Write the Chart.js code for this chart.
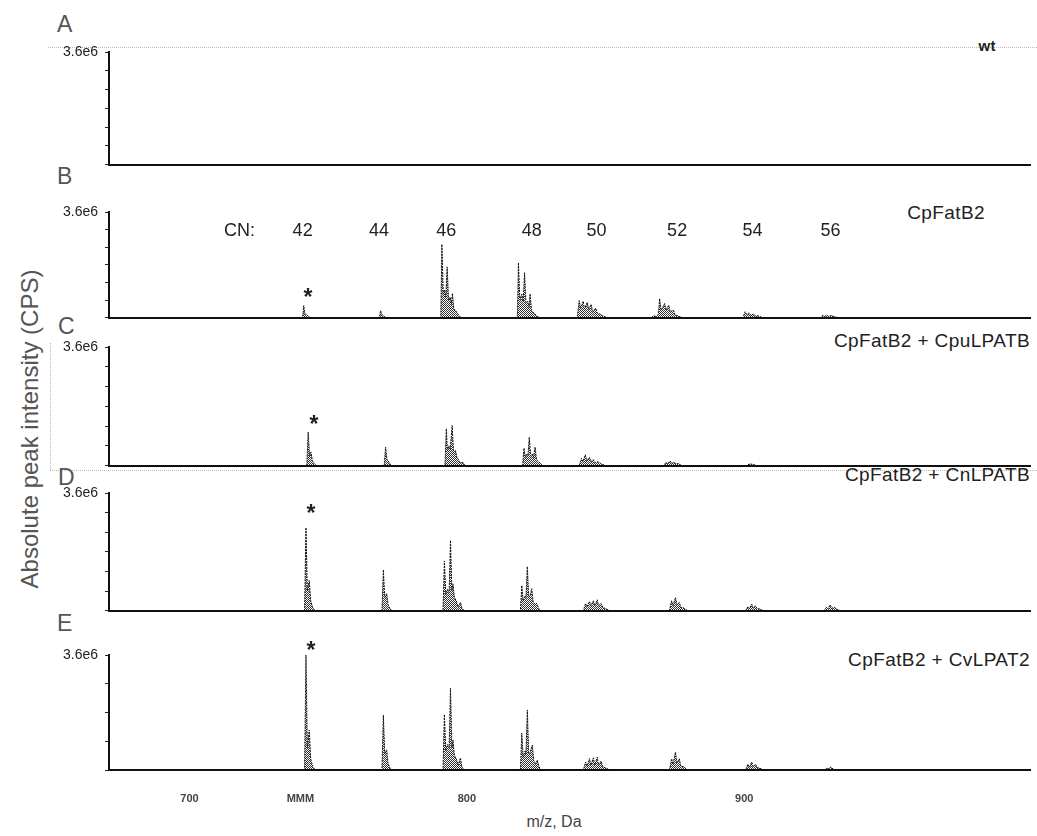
<!DOCTYPE html>
<html lang="en">
<head>
  <meta charset="UTF-8" />
  <title>TAG spectra</title>
  <script src="https://cdn.jsdelivr.net/npm/chart.js"></script>
  <style>
    body { margin: 0; background: #fff; }
    #wrap { position: relative; width: 1037px; height: 836px; overflow: hidden; font-family: "Liberation Sans", Arial, sans-serif; }
    #wrap canvas { position: absolute; left: 0; }
    .txt { position: absolute; white-space: nowrap; color: #222; line-height: 1; }
    .letter { font-size: 23px; color: #555; }
    .title { font-size: 19px; letter-spacing: 0.4px; transform: translate(-100%, -50%); }
    .dot { position: absolute; border: 0 dotted #bbb; }
  </style>
</head>
<body>
  <div id="wrap">
    <div class="dot" style="left:48px; top:47px; width:989px; border-top-width:1px;"></div>
    <div class="dot" style="left:50px; top:343px; height:127px; border-left-width:1px;"></div>
    <div class="dot" style="left:50px; top:470px; width:987px; border-top-width:1px;"></div>

    <div class="txt letter" style="left:57px; top:13px;">A</div>
    <div class="txt letter" style="left:57px; top:165px;">B</div>
    <div class="txt letter" style="left:58px; top:315px;">C</div>
    <div class="txt letter" style="left:58px; top:466px;">D</div>
    <div class="txt letter" style="left:57px; top:612px;">E</div>

    <div class="txt title" style="left:996px; top:45px; font-size:15px; font-weight:bold;">wt</div>
    <div class="txt title" style="left:985px; top:212px;">CpFatB2</div>
    <div class="txt title" style="left:1030px; top:340px;">CpFatB2 + CpuLPATB</div>
    <div class="txt title" style="left:1030px; top:474px;">CpFatB2 + CnLPATB</div>
    <div class="txt title" style="left:1030px; top:659px;">CpFatB2 + CvLPAT2</div>

    <div class="txt" style="left:-170px; top:417px; width:400px; text-align:center; font-size:24px; color:#555; transform:rotate(-90deg);">Absolute peak intensity (CPS)</div>
    <div class="txt" style="left:454px; top:814px; width:200px; text-align:center; font-size:16px; color:#444;">m/z, Da</div>
  </div>

  <script>
// m/z in Da, intensity in units of 1e6 cps
const xMin = 671, xMax = 1003;
const yMax = 3.6;
const xTickValues = [700, 740, 800, 900];
const xTickLabels = ['700', 'MMM', '800', '900'];

const cnLabels = ['42', '44', '46', '48', '50', '52', '54', '56'];
const cnMz = [740.8, 768.3, 792.6, 823.4, 846.7, 875.8, 903.0, 931.1];
const cnLevel = 2.95;
// asterisk over the CN42 peak, panels B..E
const starMz = [742.7, 744.9, 743.8, 743.8];
const starVal = [0.86, 1.40, 3.14, 3.91];

const specA = [[671, 0], [1003, 0]];

const specB = [
  [671, 0],
  [740.8, 0], [741.2, 0.41], [741.6, 0.14], [742.2, 0.10], [743.0, 0.03], [743.6, 0],
  [768.5, 0], [768.9, 0.24], [769.4, 0.10], [770.2, 0.04], [771.0, 0],
  [790.6, 0], [791.0, 2.50], [791.5, 0.80], [792.0, 0.95], [792.4, 0.70], [792.9, 1.73], [793.4, 0.60], [794.0, 0.70],
  [794.4, 0.45], [794.8, 0.83], [795.3, 0.30], [795.9, 0.25], [796.6, 0.14], [797.3, 0.05], [798.0, 0],
  [818.2, 0], [818.6, 1.87], [819.1, 0.60], [819.8, 0.80], [820.3, 0.55], [820.8, 1.53], [821.3, 0.50], [822.0, 0.55],
  [822.4, 0.35], [822.8, 0.81], [823.3, 0.25], [824.0, 0.18], [824.8, 0.10], [825.6, 0.03], [826.3, 0],
  [839.8, 0], [840.5, 0.58], [841.0, 0.30], [841.9, 0.56], [842.4, 0.30], [843.4, 0.52], [843.9, 0.28], [844.8, 0.45],
  [845.3, 0.22], [846.5, 0.32], [847.0, 0.15], [848.0, 0.12], [849.0, 0.06], [850.5, 0],
  [866.5, 0], [867.3, 0.06], [868.2, 0.04], [869.0, 0.10], [869.5, 0.65], [870.0, 0.25], [871.3, 0.48], [871.8, 0.25],
  [872.8, 0.42], [873.3, 0.20], [874.5, 0.25], [875.0, 0.10], [876.0, 0.06], [877.5, 0],
  [899.5, 0], [900.3, 0.20], [900.9, 0.10], [901.7, 0.16], [902.3, 0.08], [903.3, 0.12], [904.0, 0.06], [905.0, 0.06], [906.5, 0],
  [927.5, 0], [928.3, 0.08], [928.9, 0.04], [929.8, 0.08], [930.4, 0.04], [931.3, 0.07], [932.5, 0.03], [933.5, 0],
  [1003, 0]
];

const specC = [
  [671, 0],
  [742.3, 0], [742.8, 1.02], [743.3, 0.30], [743.8, 0.41], [744.3, 0.15], [745.0, 0.05], [745.8, 0],
  [770.2, 0], [770.7, 0.56], [771.2, 0.18], [771.6, 0.15], [772.3, 0.05], [773.0, 0],
  [792.1, 0], [792.6, 1.12], [793.0, 0.45], [793.5, 0.60], [794.0, 0.50], [794.7, 1.22], [795.2, 0.40], [795.9, 0.46],
  [796.4, 0.25], [797.0, 0.18], [797.6, 0.08], [798.6, 0.10], [799.3, 0],
  [820.1, 0], [820.6, 0.53], [821.1, 0.25], [821.6, 0.35], [822.0, 0.30], [822.5, 0.86], [823.0, 0.30], [823.6, 0.35],
  [824.0, 0.25], [824.6, 0.56], [825.1, 0.18], [825.8, 0.12], [826.4, 0.08], [827.2, 0],
  [840.5, 0], [841.3, 0.22], [841.8, 0.12], [842.7, 0.33], [843.2, 0.15], [844.2, 0.25], [844.7, 0.12], [845.6, 0.18],
  [846.1, 0.09], [847.2, 0.12], [848.5, 0.05], [850.0, 0],
  [871.0, 0], [871.8, 0.10], [872.3, 0.05], [873.3, 0.14], [873.8, 0.06], [874.8, 0.10], [875.3, 0.05], [876.2, 0.06], [877.5, 0],
  [901.0, 0], [901.8, 0.05], [903.0, 0.04], [904.5, 0],
  [1003, 0]
];

const specD = [
  [671, 0],
  [741.5, 0], [742.0, 2.54], [742.5, 0.60], [743.2, 0.92], [743.7, 0.30], [744.4, 0.10], [745.2, 0],
  [769.4, 0], [769.9, 1.25], [770.4, 0.40], [771.1, 0.52], [771.6, 0.18], [772.3, 0.05], [773.0, 0],
  [791.4, 0], [791.9, 1.52], [792.4, 0.50], [793.0, 0.65], [793.6, 0.55], [794.1, 2.15], [794.6, 0.60], [795.0, 0.82],
  [795.5, 0.40], [796.2, 0.30], [796.8, 0.12], [797.7, 0.25], [798.2, 0.08], [799.0, 0],
  [819.3, 0], [819.8, 0.77], [820.3, 0.30], [821.0, 0.45], [821.3, 0.40], [821.8, 1.35], [822.3, 0.40], [822.8, 0.45],
  [823.4, 0.67], [823.9, 0.25], [824.5, 0.20], [825.2, 0.22], [825.8, 0.08], [826.6, 0],
  [842.0, 0], [842.8, 0.22], [843.3, 0.12], [844.2, 0.28], [844.7, 0.15], [845.6, 0.30], [846.1, 0.15], [847.0, 0.33],
  [847.5, 0.15], [848.4, 0.22], [849.0, 0.10], [850.2, 0.05], [851.5, 0],
  [873.0, 0], [873.8, 0.30], [874.3, 0.15], [875.2, 0.40], [875.7, 0.18], [876.6, 0.25], [877.1, 0.10], [878.2, 0.08], [879.5, 0],
  [900.5, 0], [901.3, 0.12], [901.8, 0.06], [902.7, 0.20], [903.2, 0.08], [904.1, 0.14], [904.6, 0.06], [905.6, 0.05], [906.8, 0],
  [928.8, 0], [929.6, 0.10], [930.1, 0.05], [931.0, 0.18], [931.5, 0.07], [932.4, 0.10], [933.5, 0.04], [934.5, 0],
  [1003, 0]
];

const specE = [
  [671, 0],
  [741.5, 0], [742.0, 3.60], [742.5, 0.70], [743.2, 1.25], [743.7, 0.35], [744.4, 0.12], [745.2, 0],
  [769.4, 0], [769.9, 1.72], [770.4, 0.50], [771.1, 0.63], [771.6, 0.20], [772.3, 0.06], [773.0, 0],
  [791.4, 0], [791.9, 1.74], [792.4, 0.60], [793.0, 0.80], [793.6, 0.70], [794.1, 2.56], [794.6, 0.70], [795.0, 0.94],
  [795.5, 0.45], [796.2, 0.35], [796.8, 0.15], [797.7, 0.38], [798.2, 0.10], [799.0, 0],
  [819.3, 0], [819.8, 1.15], [820.3, 0.40], [821.0, 0.60], [821.3, 0.50], [821.8, 1.88], [822.3, 0.50], [822.8, 0.55],
  [823.6, 0.78], [824.1, 0.30], [824.8, 0.20], [825.4, 0.31], [826.0, 0.10], [826.8, 0],
  [842.0, 0], [842.8, 0.25], [843.3, 0.12], [844.2, 0.36], [844.7, 0.15], [845.6, 0.38], [846.1, 0.16], [847.0, 0.40],
  [847.5, 0.15], [848.4, 0.28], [849.0, 0.10], [850.2, 0.06], [851.5, 0],
  [873.0, 0], [873.8, 0.35], [874.3, 0.18], [875.2, 0.56], [875.7, 0.22], [876.6, 0.35], [877.1, 0.12], [878.2, 0.10], [879.5, 0],
  [900.5, 0], [901.3, 0.18], [901.8, 0.08], [902.7, 0.25], [903.2, 0.10], [904.1, 0.18], [904.6, 0.07], [905.6, 0.06], [906.8, 0],
  [929.0, 0], [929.8, 0.06], [930.5, 0.03], [931.2, 0.10], [932.0, 0.03], [933.0, 0],
  [1003, 0]
];

const specs = [specA, specB, specC, specD, specE];

// page geometry of each plot area
const plotTop = [52, 212, 347, 493, 655];
const plotBottom = [164, 317, 465, 610, 770];
const plotLeft = 109, plotRight = 1030;
const padTop = 22;
const FONT = '"Liberation Sans", Arial, sans-serif';

function hatch() {
  const c = document.createElement('canvas');
  c.width = 2; c.height = 2;
  const g = c.getContext('2d');
  g.fillStyle = 'rgba(0,0,0,0.8)';
  g.fillRect(0, 0, 1, 1);
  g.fillRect(1, 1, 1, 1);
  return g.createPattern(c, 'repeat');
}

// text marks placed in data coordinates
const marksPlugin = {
  id: 'marks',
  afterDraw(chart, args, opts) {
    const { ctx, scales: { x, y } } = chart;
    (opts.items || []).forEach(m => {
      ctx.save();
      ctx.font = m.font;
      ctx.fillStyle = '#222';
      ctx.textAlign = 'center';
      ctx.textBaseline = m.base || 'middle';
      ctx.fillText(m.text, x.getPixelForValue(m.x), y.getPixelForValue(m.y) + (m.dy || 0));
      ctx.restore();
    });
  }
};

const wrap = document.getElementById('wrap');
const pattern = hatch();

specs.forEach((spec, i) => {
  const last = i === specs.length - 1;
  // fixed x-axis box height; the upper panels need a few px more room below
  const axisH = last ? 66 : 12;
  const h = padTop + (plotBottom[i] - plotTop[i]) + axisH + (last ? 0 : 4);
  const cv = document.createElement('canvas');
  cv.width = 1037;
  cv.height = h;
  cv.style.top = (plotTop[i] - padTop) + 'px';
  wrap.appendChild(cv);

  const items = [];
  if (i === 1) {
    items.push({ x: 718, y: cnLevel, text: 'CN:', font: '18px ' + FONT });
    cnLabels.forEach((t, k) => items.push({ x: cnMz[k], y: cnLevel, text: t, font: '18px ' + FONT }));
  }
  if (i > 0) {
    items.push({ x: starMz[i - 1], y: starVal[i - 1], text: '*', font: 'bold 23px ' + FONT, base: 'alphabetic', dy: 13 });
  }

  new Chart(cv, {
    type: 'line',
    data: {
      datasets: [{
        data: spec.map(p => ({ x: p[0], y: p[1] })),
        borderColor: '#111',
        borderWidth: 1,
        borderDash: [2, 1],
        backgroundColor: pattern,
        fill: 'origin',
        pointRadius: 0,
        tension: 0
      }]
    },
    options: {
      responsive: false,
      animation: false,
      events: [],
      layout: { padding: { top: padTop, right: 1037 - plotRight, bottom: 0, left: 0 } },
      plugins: {
        legend: { display: false },
        tooltip: { enabled: false },
        marks: { items: items }
      },
      scales: {
        x: {
          type: 'linear',
          min: xMin,
          max: xMax,
          afterFit: s => { s.height = axisH; },
          afterBuildTicks: s => { s.ticks = xTickValues.map(v => ({ value: v })); },
          ticks: {
            display: last,
            padding: 14,
            autoSkip: false,
            maxRotation: 0,
            color: '#444',
            font: { size: 11, weight: 'bold', family: FONT },
            callback: v => xTickLabels[xTickValues.indexOf(v)] || ''
          },
          grid: { display: false },
          border: { display: true, color: '#111', width: 2, dash: [3, 1] }
        },
        y: {
          min: 0,
          max: yMax,
          afterFit: s => { s.width = plotLeft; },
          ticks: {
            stepSize: 0.3,
            padding: 7,
            color: '#222',
            font: { size: 14, family: FONT },
            callback: v => Math.abs(v - yMax) < 1e-6 ? '3.6e6' : ''
          },
          grid: { drawOnChartArea: false, drawTicks: true, tickLength: 4, color: '#222', lineWidth: 1 },
          border: { display: true, color: '#111', width: 2 }
        }
      }
    },
    plugins: [marksPlugin]
  });
});
  </script>
</body>
</html>
